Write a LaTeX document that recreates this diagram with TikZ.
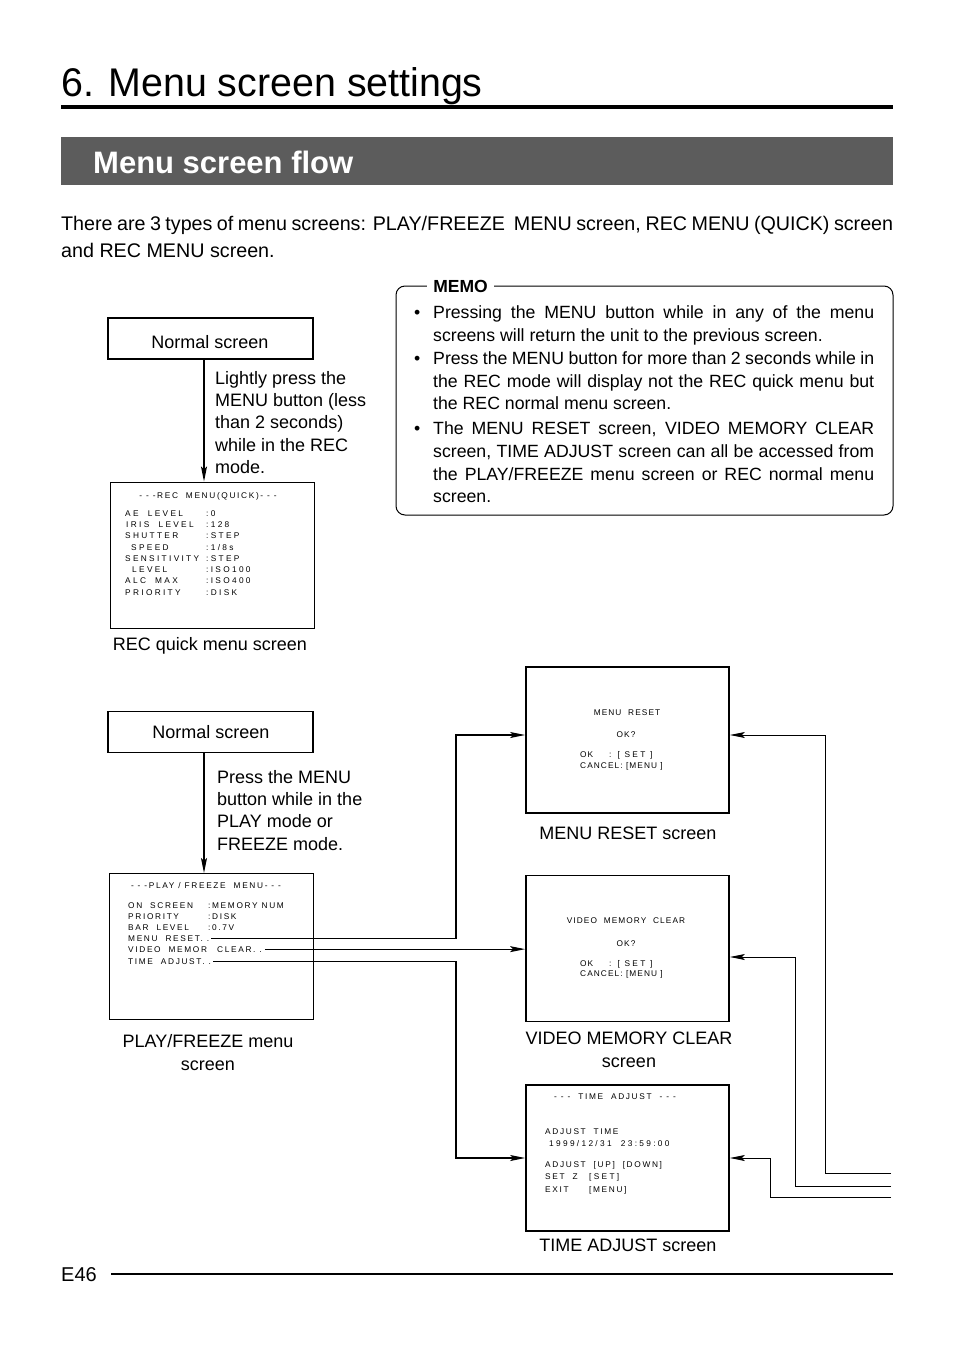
\documentclass[tikz,border=0pt]{standalone}
\usepackage{fontspec}
\setmainfont{Liberation Sans}
\newfontfamily\scrA[LetterSpace=13]{Liberation Sans}
\newfontfamily\scrB[LetterSpace=20]{Liberation Sans}
\newfontfamily\scrC[LetterSpace=28]{Liberation Sans}
\usetikzlibrary{arrows.meta}
\definecolor{banner}{gray}{0.36}
\begin{document}
\begin{tikzpicture}[x=1pt,y=-1pt,
  lbl/.style={inner sep=0pt, anchor=base west, font=\fontsize{18}{18}\selectfont},
  clbl/.style={inner sep=0pt, anchor=base, font=\fontsize{18}{18}\selectfont},
  memotxt/.style={inner sep=0pt, anchor=base west, font=\fontsize{17.7}{17.7}\selectfont},
  st/.style={inner sep=0pt, anchor=base west, font=\scrA\fontsize{8.3}{8.3}\selectfont},
  stb/.style={st, font=\scrB\fontsize{8.3}{8.3}\selectfont},
  stc/.style={st, font=\scrC\fontsize{8.3}{8.3}\selectfont},
  cst/.style={st, anchor=base},
  cstb/.style={stb, anchor=base},
  nbox/.style={draw, line width=1.1pt, minimum width=205pt, minimum height=41pt, inner sep=0pt},
  sbox/.style={draw, line width=1pt, minimum width=204pt, minimum height=146pt, inner sep=0pt},
  rbox/.style={draw, line width=1.8pt, minimum width=203pt, minimum height=146pt, inner sep=0pt},
  conn/.style={line width=1.3pt},
  thinconn/.style={line width=1pt},
  arr/.style={-{Stealth[length=15pt,width=6pt,inset=3pt]}}
]
\useasboundingbox (0,0) rectangle (954,1352);
\fill[white] (0,0) rectangle (954,1352);

% title
\node[inner sep=0pt, anchor=base west, font=\fontsize{40}{40}\selectfont] (title) at (61,96) {\scalebox{0.984}[1]{6. Menu screen settings}};
\draw[line width=4pt] (61,107) -- (893,107);
\node[fill=banner, minimum width=832pt, minimum height=48pt, inner sep=0pt] (ban) at (477,161) {};
\node[inner sep=0pt, anchor=base west, text=white, font=\bfseries\fontsize{31}{31}\selectfont] (bantxt) at (93,173) {Menu screen flow};

% intro
\node[inner sep=0pt, anchor=base west, font=\fontsize{19.7}{19.7}\selectfont] (intro1) at (61,230) {\makebox[832pt][s]{There are 3 types of menu screens: PLAY/FREEZE\ \ MENU screen, REC MENU (QUICK) screen}};
\node[inner sep=0pt, anchor=base west, font=\fontsize{19.7}{19.7}\selectfont] (intro2) at (61,257) {and REC MENU screen.};

% memo
\node[draw, line width=1pt, rounded corners=9pt, minimum width=497pt, minimum height=229pt, inner sep=0pt] (memo) at (644.5,400.5) {};
\node[fill=white, inner xsep=6pt, inner ysep=2pt, font=\bfseries\fontsize{17.5}{17.5}\selectfont] (memolbl) at (460.5,286) {MEMO};
\foreach \yy in {318,364,434} \node[memotxt] at (414,\yy) {•};
\node[memotxt] (m1) at (433,318) {\makebox[441pt][s]{Pressing the MENU button while in any of the menu}};
\node[memotxt] (m2) at (433,341) {screens will return the unit to the previous screen.};
\node[memotxt] (m3) at (433,364) {\makebox[441pt][s]{Press the MENU button for more than 2 seconds while in}};
\node[memotxt] (m4) at (433,387) {\makebox[441pt][s]{the REC mode will display not the REC quick menu but}};
\node[memotxt] (m5) at (433,409) {the REC normal menu screen.};
\node[memotxt] (m6) at (433,434) {\makebox[441pt][s]{The MENU RESET screen, VIDEO MEMORY CLEAR}};
\node[memotxt] (m7) at (433,457) {\makebox[441pt][s]{screen, TIME ADJUST screen can all be accessed from}};
\node[memotxt] (m8) at (433,480) {\makebox[441pt][s]{the PLAY/FREEZE menu screen or REC normal menu}};
\node[memotxt] (m9) at (433,502) {screen.};

% upper flow
\node[nbox] (n1) at (210.5,338.5) {};
\node[clbl] at (210,348) {Normal screen};
\node[sbox] (rq) at (212,555) {};
\draw[conn,arr] ([xshift=-6.5pt]n1.south) -- ([xshift=-8pt]rq.north);
\node[lbl] at (215,384) {Lightly press the};
\node[lbl] at (215,406) {MENU button (less};
\node[lbl] at (215,428) {than 2 seconds)};
\node[lbl] at (215,451) {while in the REC};
\node[lbl] at (215,473) {mode.};
\node[cstb] at (208,498) {- - -REC\ \ MENU(QUICK)- - -};
\node[stc] at (125,516) {AE\ \ LEVEL};
\node[stc] at (126,527) {IRIS\ \ LEVEL};
\node[stc] at (125,538) {SHUTTER};
\node[stc] at (131,550) {SPEED};
\node[stc] at (125,561) {SENSITIVITY};
\node[stc] at (132,572) {LEVEL};
\node[stc] at (125,583) {ALC\ \ MAX};
\node[stc] at (125,595) {PRIORITY};
\node[stc] at (206,516) {:0};
\node[stc] at (206,527) {:128};
\node[stc] at (206,538) {:STEP};
\node[stc] at (206,550) {:1/8s};
\node[stc] at (206,561) {:STEP};
\node[stc] at (206,572) {:ISO100};
\node[stc] at (206,583) {:ISO400};
\node[stc] at (206,595) {:DISK};
\node[clbl] at (210,650) {REC quick menu screen};

% lower flow
\node[nbox] (n2) at (210.5,732) {};
\node[clbl] at (211,738) {Normal screen};
\node[sbox] (pf) at (211.5,946.5) {};
\draw[conn,arr] ([xshift=-6.5pt]n2.south) -- ([xshift=-7.5pt]pf.north);
\node[lbl] at (217,783) {Press the MENU};
\node[lbl] at (217,805) {button while in the};
\node[lbl] at (217,827) {PLAY mode or};
\node[lbl] at (217,850) {FREEZE mode.};
\node[cstb] at (206,888) {- - -PLAY / FREEZE\ \ MENU- - -};
\node[stb] at (128,908) {ON\ \ SCREEN};
\node[stb] at (128,919) {PRIORITY};
\node[stb] at (128,930) {BAR\ \ LEVEL};
\node[stb] (pfmr) at (128,941) {MENU\ \ RESET. .};
\node[stb] at (128,952) {VIDEO\ \ MEMOR};
\node[stb] (pfvm) at (217,952) {CLEAR. .};
\node[stb] (pfta) at (128,964) {TIME\ \ ADJUST. .};
\node[stb] at (208,908) {:MEMORY NUM};
\node[stb] at (208,919) {:DISK};
\node[stb] at (208,930) {:0.7V};
\node[clbl] at (208,1047) {PLAY/FREEZE menu};
\node[clbl] at (208,1070) {screen};

% right screens
\node[rbox] (mr) at (627.5,740) {};
\node[cst] at (627,715) {MENU\ \ RESET};
\node[cst] at (626,737) {OK?};
\node[st] at (580,757) {OK};
\node[stc] at (609,757) {: [ SET ]};
\node[st] at (580,768) {CANCEL: [MENU ]};
\node[clbl] at (628,839) {MENU RESET screen};

\node[rbox] (vm) at (627.5,948.5) {};
\node[cst] at (626,923) {VIDEO\ \ MEMORY\ \ CLEAR};
\node[cst] at (626,946) {OK?};
\node[st] at (580,966) {OK};
\node[stc] at (609,966) {: [ SET ]};
\node[st] at (580,976) {CANCEL: [MENU ]};
\node[clbl] at (629,1044) {VIDEO MEMORY CLEAR};
\node[clbl] at (629,1067) {screen};

\node[rbox] (ta) at (627.5,1158) {};
\node[cstb] at (615,1099) {- - -\ \ TIME\ \ ADJUST\ \ - - -};
\node[stb] at (545,1134) {ADJUST\ \ TIME};
\node[stc] at (549,1146) {1999/12/31\ \ 23:59:00};
\node[stb] at (545,1167) {ADJUST\ \ [UP]\ \ [DOWN]};
\node[stb] at (545,1179) {SET\ \ Z};
\node[stc] at (589,1179) {[SET]};
\node[stb] at (545,1192) {EXIT};
\node[stb] at (589,1192) {[MENU]};
\node[clbl] at (628,1251) {TIME ADJUST screen};

% left connectors
\coordinate (busL) at (454,0);
\draw[conn,arr] ([xshift=2pt]pfmr.east) -- ([xshift=2pt]pfmr.east -| busL) |- ([yshift=5pt]mr.west);
\draw[thinconn,arr] ([xshift=3pt]pfvm.east) -- (pfvm.east -| vm.west);
\draw[conn,arr] ([xshift=2pt]pfta.east) -- ([xshift=2pt]pfta.east -| busL) |- (ta.west);

% right connectors (from off-page)
\coordinate (r1) at (891,1173);
\coordinate (r2) at (891,1186);
\coordinate (r3) at (891,1197);
\coordinate (b1) at (825,0);
\coordinate (b2) at (795,0);
\coordinate (b3) at (770,0);
\draw[thinconn,arr] (r1) -- (r1 -| b1) |- ([yshift=5pt]mr.east);
\draw[thinconn,arr] (r2) -- (r2 -| b2) |- ([yshift=-8.5pt]vm.east);
\draw[thinconn,arr] (r3) -- (r3 -| b3) |- (ta.east);

% footer
\node[inner sep=0pt, anchor=base west, font=\fontsize{20}{20}\selectfont] (pg) at (61,1281) {E46};
\draw[line width=1.5pt] (111,1274) -- (893,1274);
\end{tikzpicture}
\end{document}
